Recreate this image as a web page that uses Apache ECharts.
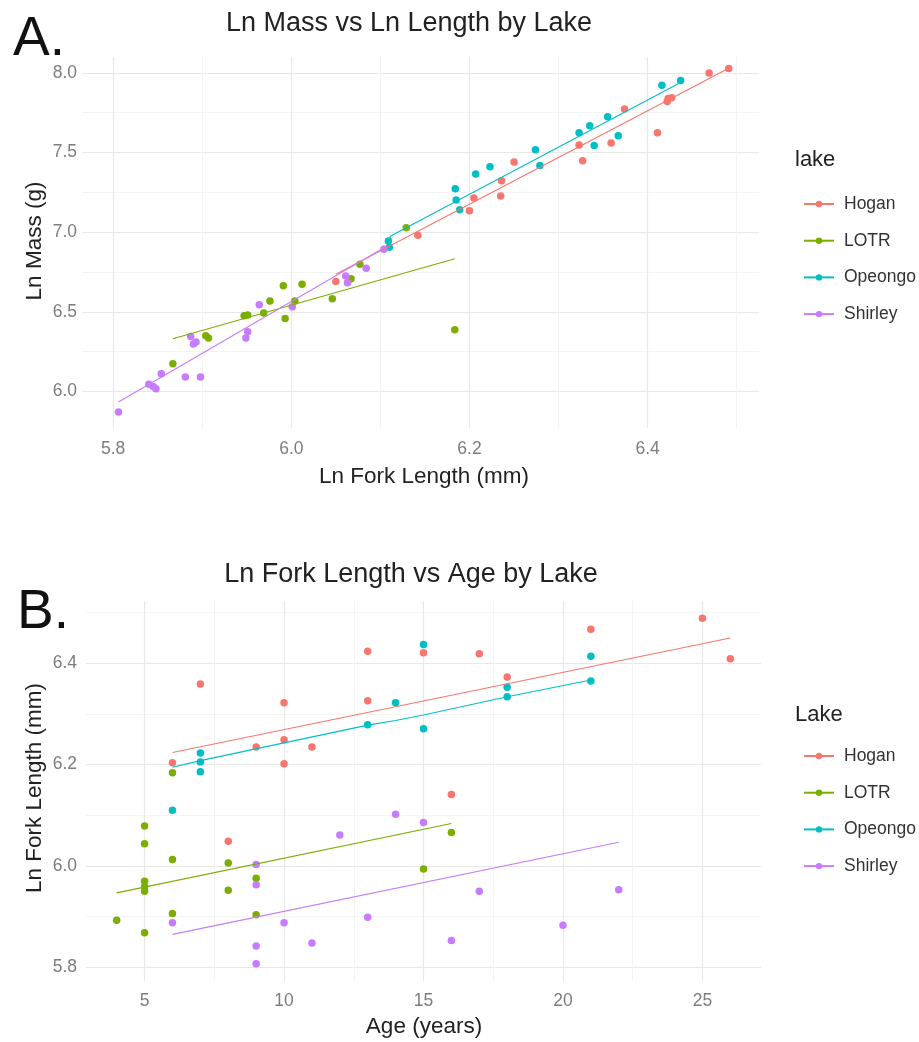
<!DOCTYPE html>
<html>
<head>
<meta charset="utf-8">
<script src="https://cdn.jsdelivr.net/npm/echarts@6/dist/echarts.min.js"></script>
<style>
html,body{margin:0;padding:0;background:#fff;}
#chart{width:919px;height:1042px;}
</style>
</head>
<body>
<div id="chart"></div>
<script>
// ---------- categories ----------
const lakes = ['Hogan', 'LOTR', 'Opeongo', 'Shirley'];
const lakeColors = ['#F8766D', '#7CAE00', '#00BFC4', '#C77CFF'];

// ---------- Panel A: Ln Fork Length (x) vs Ln Mass (y) ----------
const hoganA = [[6.050,6.690],[6.142,6.981],[6.200,7.135],[6.205,7.215],[6.235,7.227],[6.236,7.323],[6.250,7.440],[6.323,7.548],[6.327,7.448],[6.359,7.560],[6.374,7.773],[6.411,7.625],[6.422,7.820],[6.423,7.840],[6.427,7.844],[6.469,8.000],[6.491,8.027]];
const lotrA = [[5.867,6.173],[5.904,6.350],[5.907,6.336],[5.947,6.475],[5.951,6.479],[5.969,6.492],[5.976,6.567],[5.991,6.664],[5.993,6.458],[6.004,6.567],[6.012,6.673],[6.046,6.581],[6.067,6.708],[6.077,6.798],[6.129,7.027],[6.1835,6.3875]];
const opeongoA = [[6.109,6.944],[6.110,6.905],[6.184,7.273],[6.185,7.202],[6.189,7.140],[6.207,7.365],[6.223,7.410],[6.274,7.517],[6.279,7.419],[6.323,7.625],[6.335,7.669],[6.340,7.544],[6.355,7.725],[6.367,7.606],[6.416,7.923],[6.437,7.952]];
const shirleyA = [[5.806,5.871],[5.840,6.044],[5.845,6.031],[5.848,6.017],[5.854,6.111],[5.881,6.090],[5.898,6.090],[5.887,6.344],[5.890,6.298],[5.893,6.310],[5.949,6.336],[5.951,6.375],[5.964,6.544],[6.001,6.531],[6.061,6.725],[6.063,6.683],[6.084,6.773],[6.104,6.892]];
// fitted lines
const hoganFitA = [[6.050,6.735],[6.491,8.030]];
const lotrFitA = [[5.867,6.330],[6.1835,6.833]];
const opeongoFitA = [[6.109,6.955],[6.112,6.978],[6.437,7.940]];
const shirleyFitA = [[5.806,5.933],[6.104,6.902]];

// ---------- Panel B: Age (x) vs Ln Fork Length (y) ----------
const hoganB = [[6,6.204],[7,6.359],[8,6.049],[9,6.235],[10,6.322],[10,6.249],[10,6.202],[11,6.235],[13,6.424],[13,6.326],[15,6.421],[16,6.141],[17,6.419],[18,6.373],[21,6.467],[25,6.489],[26,6.409]];
const lotrB = [[4,5.893],[5,6.079],[5,6.044],[5,5.970],[5,5.959],[5,5.950],[5,5.868],[6,6.184],[6,6.013],[6,5.906],[8,6.006],[8,5.952],[9,5.976],[9,5.904],[15,5.994],[16,6.066]];
const opeongoB = [[6,6.110],[7,6.223],[7,6.205],[7,6.186],[13,6.279],[14,6.322],[15,6.437],[15,6.271],[18,6.353],[18,6.334],[21,6.414],[21,6.365]];
const shirleyB = [[6,5.888],[9,6.003],[9,5.963],[9,5.842],[9,5.807],[10,5.888],[11,5.848],[12,6.061],[13,5.899],[14,6.102],[15,6.086],[16,5.853],[17,5.950],[20,5.883],[22,5.953]];
const hoganFitB = [[6,6.224],[26,6.450]];
const lotrFitB = [[4,5.947],[16,6.084]];
const opeongoFitB = [[6,6.195],[7,6.208],[13,6.278],[14,6.287],[15,6.298],[18,6.334],[21,6.367]];
const shirleyFitB = [[6,5.865],[22,6.047]];

// ---------- tick labels ----------
const xTicksA = [5.8, 6.0, 6.2, 6.4];
const xMinorA = [5.9, 6.1, 6.3, 6.5];
const yTicksA = [6.0, 6.5, 7.0, 7.5, 8.0];
const yMinorA = [6.25, 6.75, 7.25, 7.75];
const xTicksB = [5, 10, 15, 20, 25];
const xMinorB = [7.5, 12.5, 17.5, 22.5];
const yTicksB = [5.8, 6.0, 6.2, 6.4];
const yMinorB = [5.9, 6.1, 6.3, 6.5];

const pointsA = [hoganA, lotrA, opeongoA, shirleyA];
const fitsA = [hoganFitA, lotrFitA, opeongoFitA, shirleyFitA];
const pointsB = [hoganB, lotrB, opeongoB, shirleyB];
const fitsB = [hoganFitB, lotrFitB, opeongoFitB, shirleyFitB];

const tickColor = '#7d7d7d';
const majorGrid = '#e8e8e8';
const minorGrid = '#f3f3f3';
const FONT = 'Liberation Sans, Arial, sans-serif';

function mainAxis(gridIndex, min, max, ticks, dec, margin) {
  return {
    type: 'value', gridIndex, min, max,
    axisLine: {show: false},
    axisTick: {show: false, customValues: ticks},
    axisLabel: {customValues: ticks, color: tickColor, fontSize: 17.5, fontFamily: FONT, margin,
      formatter: v => dec ? Number(v).toFixed(dec) : String(Math.round(v))},
    splitLine: {show: true, lineStyle: {color: majorGrid, width: 1.2}}
  };
}
function minorAxis(gridIndex, min, max, ticks) {
  return {
    type: 'value', gridIndex, min, max,
    axisLine: {show: false},
    axisTick: {show: false, customValues: ticks},
    axisLabel: {show: false},
    splitLine: {show: true, lineStyle: {color: minorGrid, width: 1}}
  };
}

const series = [];
lakes.forEach((name, i) => {
  series.push({name, type: 'line', xAxisIndex: 0, yAxisIndex: 0, data: fitsA[i],
    symbol: 'circle', showSymbol: false, z: 4, silent: true,
    lineStyle: {color: lakeColors[i], width: 1.1}, itemStyle: {color: lakeColors[i]}});
});
lakes.forEach((name, i) => {
  series.push({name, type: 'scatter', xAxisIndex: 0, yAxisIndex: 0, data: pointsA[i],
    symbol: 'circle', symbolSize: 7.5, z: 3, itemStyle: {color: lakeColors[i], opacity: 1}});
  series.push({name, type: 'line', xAxisIndex: 2, yAxisIndex: 2, data: fitsB[i],
    symbol: 'circle', showSymbol: false, z: 4, silent: true,
    lineStyle: {color: lakeColors[i], width: 1.1}, itemStyle: {color: lakeColors[i]}});
  series.push({name, type: 'scatter', xAxisIndex: 2, yAxisIndex: 2, data: pointsB[i],
    symbol: 'circle', symbolSize: 7.5, z: 3, itemStyle: {color: lakeColors[i], opacity: 1}});
});

function legendAt(top) {
  return {
    orient: 'vertical', left: 798, top, data: lakes, selectedMode: false,
    itemWidth: 30, itemHeight: 8, itemGap: 16.7,
    textStyle: {fontSize: 17.5, color: '#333', fontFamily: FONT, lineHeight: 20, padding: [0, 0, 0, 5]}
  };
}

function txt(text, x, y, size, opts) {
  return Object.assign({type: 'text', x, y, silent: true,
    style: Object.assign({text, fontSize: size, fontFamily: FONT, fill: '#222',
      textAlign: 'center', textVerticalAlign: 'middle'}, (opts && opts.style) || {})},
    opts && opts.rotation ? {rotation: opts.rotation} : {});
}

const option = {
  animation: false,
  backgroundColor: '#fff',
  grid: [
    {left: 82, top: 57, width: 677, height: 371, containLabel: false},
    {left: 86, top: 601, width: 675, height: 380, containLabel: false}
  ],
  xAxis: [
    mainAxis(0, 5.765, 6.525, xTicksA, 1, 12),
    minorAxis(0, 5.765, 6.525, xMinorA),
    mainAxis(1, 2.9, 27.1, xTicksB, 0, 11),
    minorAxis(1, 2.9, 27.1, xMinorB)
  ],
  yAxis: [
    mainAxis(0, 5.77, 8.10, yTicksA, 1, 5),
    minorAxis(0, 5.77, 8.10, yMinorA),
    mainAxis(1, 5.773, 6.523, yTicksB, 1, 9),
    minorAxis(1, 5.773, 6.523, yMinorB)
  ],
  legend: [legendAt(189), legendAt(741)],
  graphic: [
    txt('A.', 13, 40, 55, {style: {textAlign: 'left', fill: '#111'}}),
    txt('B.', 17, 613, 55, {style: {textAlign: 'left', fill: '#111'}}),
    txt('Ln Mass vs Ln Length by Lake', 409, 24, 27),
    txt('Ln Fork Length vs Age by Lake', 411, 575, 27),
    txt('Ln Fork Length (mm)', 424, 477, 22.5),
    txt('Age (years)', 424, 1027, 22.5),
    txt('Ln Mass (g)', 35, 241, 22.5, {rotation: Math.PI / 2}),
    txt('Ln Fork Length (mm)', 35, 788, 22.5, {rotation: Math.PI / 2}),
    txt('lake', 795, 160, 22, {style: {textAlign: 'left'}}),
    txt('Lake', 795, 715, 22, {style: {textAlign: 'left'}})
  ],
  series
};

const chart = echarts.init(document.getElementById('chart'), null, {renderer: 'canvas'});
chart.setOption(option);
</script>
</body>
</html>
